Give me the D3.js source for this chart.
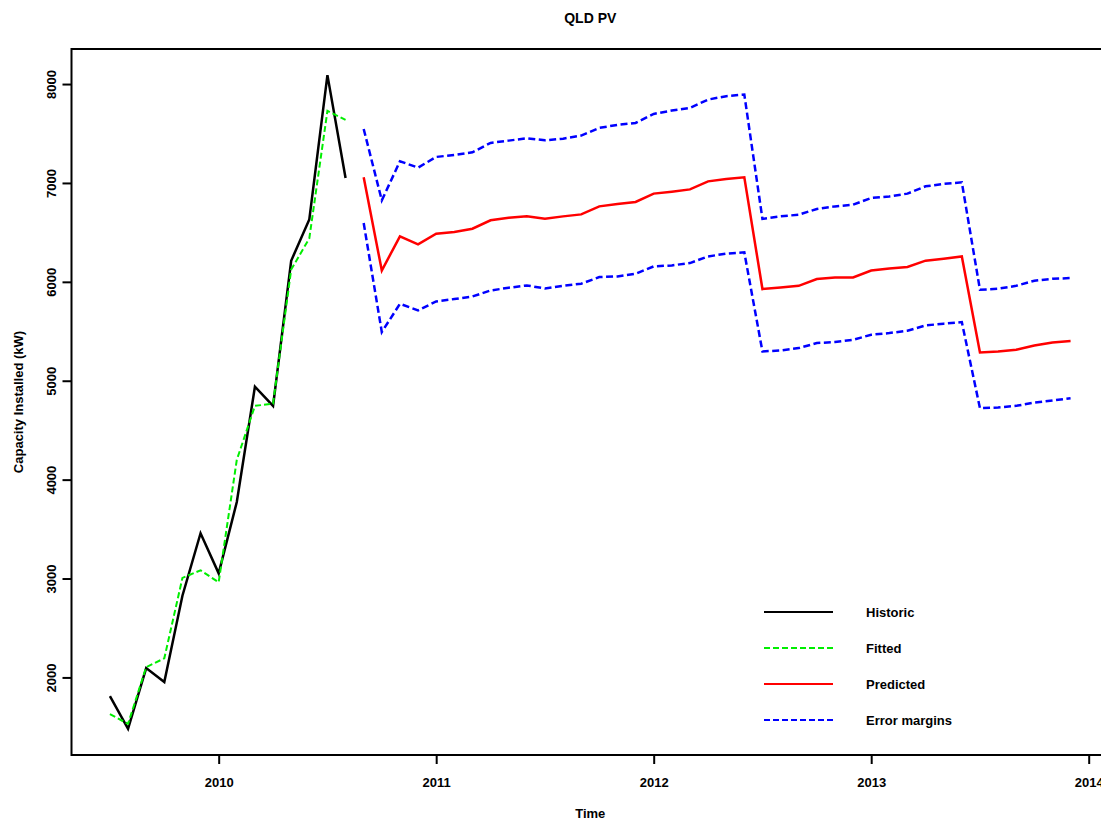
<!DOCTYPE html>
<html>
<head>
<meta charset="utf-8">
<script src="https://cdn.jsdelivr.net/npm/d3@7"></script>
<style>
  html, body { margin: 0; padding: 0; background: #fff; }
  svg text { font-family: "Liberation Sans", Arial, Helvetica, sans-serif; font-weight: bold; fill: #000; }
</style>
</head>
<body>
<svg id="chart" width="1101" height="823"></svg>
<script>
// Monthly series, QLD PV capacity installed (kW)
const historicStart = 2009 + 6 / 12;   // Jul 2009
const historic = [1811, 1480, 2094, 1953, 2826, 3458, 3052, 3774, 4940, 4746, 6213, 6631, 8090, 7050];
const fitted   = [1629, 1530, 2104, 2193, 3006, 3083, 2962, 4200, 4746, 4768, 6124, 6440, 7729, 7638];

const predictedStart = 2010 + 8 / 12;  // Sep 2010
const predicted = [7057, 6115, 6460, 6379, 6487, 6504, 6537, 6622, 6649, 6662, 6639, 6662, 6682, 6763,
                   6787, 6808, 6892, 6912, 6935, 7016, 7040, 7057,
                   5927, 5943, 5960, 6028, 6043, 6045, 6115, 6136, 6150, 6214, 6234, 6257,
                   5285, 5296, 5314, 5357, 5387, 5401];
const upper = [7546, 6824, 7219, 7155, 7263, 7283, 7310, 7405, 7428, 7452, 7431, 7448, 7479, 7557,
               7587, 7607, 7698, 7732, 7759, 7843, 7877, 7894,
               6636, 6662, 6679, 6737, 6763, 6780, 6848, 6864, 6892, 6966, 6990, 7006,
               5920, 5930, 5960, 6011, 6031, 6038];
const lower = [6595, 5492, 5778, 5711, 5802, 5826, 5852, 5913, 5940, 5964, 5933, 5960, 5981, 6048,
               6055, 6082, 6156, 6166, 6190, 6257, 6285, 6298,
               5296, 5306, 5330, 5381, 5391, 5414, 5465, 5482, 5506, 5559, 5577, 5593,
               4723, 4729, 4746, 4780, 4800, 4824];

const xTicks = [2010, 2011, 2012, 2013, 2014];
const yTicks = [2000, 3000, 4000, 5000, 6000, 7000, 8000];

const legendLabels = ["Historic", "Fitted", "Predicted", "Error margins"];
const legendColors = ["#000000", "#00ee00", "#ff0000", "#0000ff"];
const legendDash   = [null, "6,3", null, "6,3"];

const toPoints = (start, values) => values.map((v, i) => ({ t: start + i / 12, v }));
const histPts = toPoints(historicStart, historic);
const fitPts  = toPoints(historicStart, fitted);
const predPts = toPoints(predictedStart, predicted);
const upPts   = toPoints(predictedStart, upper);
const loPts   = toPoints(predictedStart, lower);

const allPts = [].concat(histPts, fitPts, predPts, upPts, loPts);

// 4% padding on each side, as in a base graphics plot
function padded(ext) {
  const d = (ext[1] - ext[0]) * 0.04;
  return [ext[0] - d, ext[1] + d];
}

const plot = { left: 71.5, top: 49, right: 1109, bottom: 755 };

const x = d3.scaleLinear()
  .domain(padded(d3.extent(allPts, d => d.t)))
  .range([plot.left, plot.right]);
const y = d3.scaleLinear()
  .domain(padded(d3.extent(allPts, d => d.v)))
  .range([plot.bottom, plot.top]);

const svg = d3.select("#chart");

const line = d3.line().x(d => x(d.t)).y(d => y(d.v));

const plotArea = svg.append("g");

function drawSeries(pts, color, width, dash) {
  plotArea.append("path")
    .datum(pts)
    .attr("fill", "none")
    .attr("stroke", color)
    .attr("stroke-width", width)
    .attr("stroke-linejoin", "miter")
    .attr("stroke-dasharray", dash)
    .attr("d", line);
}

drawSeries(histPts, "#000000", 2.5, null);
drawSeries(fitPts, "#00ee00", 2, "6,3");
drawSeries(predPts, "#ff0000", 2.5, null);
drawSeries(upPts, "#0000ff", 2.5, "7,3.5");
drawSeries(loPts, "#0000ff", 2.5, "7,3.5");

// plot frame
svg.append("rect")
  .attr("x", plot.left).attr("y", plot.top)
  .attr("width", plot.right - plot.left).attr("height", plot.bottom - plot.top)
  .attr("fill", "none").attr("stroke", "#000").attr("stroke-width", 2);

// x axis
const xAxis = svg.append("g")
  .attr("transform", `translate(0,${plot.bottom})`)
  .call(d3.axisBottom(x).tickValues(xTicks).tickFormat(d3.format("d")).tickSize(9).tickPadding(0));
xAxis.select(".domain").remove();
xAxis.selectAll(".tick line").attr("stroke", "#000").attr("stroke-width", 2);
xAxis.selectAll(".tick text")
  .attr("y", 32).attr("dy", null)
  .attr("font-size", 13)
  .style("font-family", '"Liberation Sans", Arial, sans-serif')
  .style("font-weight", "bold");

// y axis
const yAxis = svg.append("g")
  .attr("transform", `translate(${plot.left},0)`)
  .call(d3.axisLeft(y).tickValues(yTicks).tickFormat(d3.format("d")).tickSize(9));
yAxis.select(".domain").remove();
yAxis.selectAll(".tick line").attr("stroke", "#000").attr("stroke-width", 2);
yAxis.selectAll(".tick text")
  .attr("x", null).attr("dy", null)
  .attr("text-anchor", "middle")
  .attr("transform", "translate(-16,0) rotate(-90)")
  .attr("font-size", 13)
  .style("font-family", '"Liberation Sans", Arial, sans-serif')
  .style("font-weight", "bold");

// titles
svg.append("text")
  .attr("x", (plot.left + plot.right) / 2).attr("y", 23)
  .attr("text-anchor", "middle").attr("font-size", 14)
  .text("QLD PV");

svg.append("text")
  .attr("x", (plot.left + plot.right) / 2).attr("y", 818)
  .attr("text-anchor", "middle").attr("font-size", 13)
  .text("Time");

svg.append("text")
  .attr("transform", `translate(23,${(plot.top + plot.bottom) / 2}) rotate(-90)`)
  .attr("text-anchor", "middle").attr("font-size", 13)
  .text("Capacity Installed (kW)");

// legend
const legend = svg.append("g");
const legendY = d3.scalePoint().domain(legendLabels).range([612, 720]);
legendLabels.forEach((label, i) => {
  const yy = legendY(label);
  legend.append("line")
    .attr("x1", 764).attr("x2", 833).attr("y1", yy).attr("y2", yy)
    .attr("stroke", legendColors[i]).attr("stroke-width", 2)
    .attr("stroke-dasharray", legendDash[i]);
  legend.append("text")
    .attr("x", 866).attr("y", yy).attr("dy", "0.35em")
    .attr("font-size", 13)
    .text(label);
});
</script>
</body>
</html>
